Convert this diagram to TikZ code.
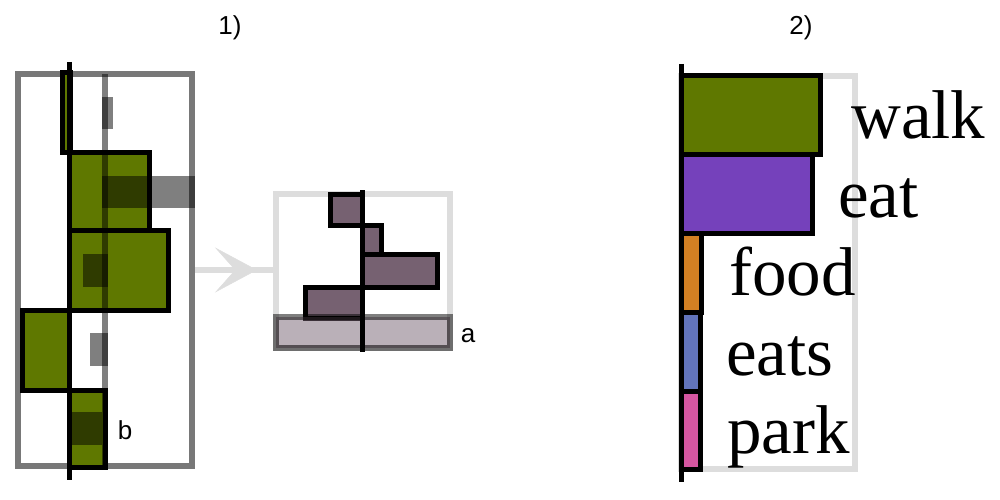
\documentclass[tikz,border=0pt]{standalone}
\usepackage{fontspec}
\setmainfont{Liberation Sans}
\newfontfamily\wordfont{Liberation Serif}
\usetikzlibrary{arrows.meta,positioning,decorations.markings}
\definecolor{oliveBar}{RGB}{95,120,0}
\definecolor{mauveBar}{RGB}{118,97,113}
\definecolor{purpleBar}{RGB}{117,65,187}
\definecolor{orangeBar}{RGB}{211,128,35}
\definecolor{blueBar}{RGB}{98,116,187}
\definecolor{pinkBar}{RGB}{213,86,160}
\definecolor{paleGray}{RGB}{221,221,221}
\tikzstyle{bar}       =[draw=black,line width=5pt]
\tikzstyle{shadowBox} =[fill=black,fill opacity=0.5]
\tikzstyle{darkFrame} =[draw=black,draw opacity=0.53,line width=6pt]
\tikzstyle{lightFrame}=[draw=paleGray,line width=6pt]
\tikzstyle{axisLine}  =[draw=black,line width=5pt]
\tikzstyle{smallText} =[inner sep=0pt,font=\fontsize{26}{26}\selectfont]
\tikzstyle{wordLabel} =[anchor=base west,inner sep=0pt,font=\wordfont\fontsize{69}{69}\selectfont]

\begin{document}
\begin{tikzpicture}[x=1pt,y=-1pt]
  \useasboundingbox (0,0) rectangle (1000,500);
  \node [smallText,anchor=base] (one) at (230,35) {1)};
  \node [smallText,anchor=base] (two) at (801,35) {2)};

  \draw [darkFrame] (18,74) rectangle (192,466);
  \draw [bar,fill=oliveBar] (62,73) rectangle (70,152);
  \draw [bar,fill=oliveBar] (69,152) rectangle (149,230);
  \draw [bar,fill=oliveBar] (69,230) rectangle (168,310);
  \draw [bar,fill=oliveBar] (22,310) rectangle (69,390);
  \draw [bar,fill=oliveBar] (69,390) rectangle (105,467);
  \draw [draw=black,draw opacity=0.5,line width=6pt] (105,74) -- (105,466);
  \fill [shadowBox] (102,97) rectangle (113,129);
  \fill [shadowBox] (102,176) rectangle (195,208);
  \fill [shadowBox] (83,254) rectangle (108,287);
  \fill [shadowBox] (90,333) rectangle (108,366);
  \fill [shadowBox] (72,412) rectangle (102,445);
  \draw [axisLine] (69,62) -- (69,480);
  \node [smallText] (b) at (125,430) {b};

  \coordinate (leftPanel) at (195,270);
  \coordinate (zoomBox) at (273,270);
  \draw [draw=paleGray,line width=6pt,
         postaction={decorate},
         decoration={markings,mark=at position 62pt with
           {\arrow[paleGray]{Stealth[length=42pt,width=45pt,inset=20pt,line width=0.5pt]}}}]
    (leftPanel) -- (zoomBox);

  \draw [lightFrame] (276,194) rectangle (450,348);
  \draw [bar,fill=mauveBar] (330,194) rectangle (362,225);
  \draw [bar,fill=mauveBar] (362,225) rectangle (381,254);
  \draw [bar,fill=mauveBar] (362,254) rectangle (437,287);
  \draw [bar,fill=mauveBar] (305,287) rectangle (362,318);
  \draw [draw=black,draw opacity=0.5,fill=mauveBar,fill opacity=0.5,line width=6pt]
    (276,317) rectangle (450,348);
  \draw [axisLine] (362,190) -- (362,352);
  \node [smallText] (a) at (468,336) {a};

  \draw [lightFrame] (681,76) rectangle (855,469);
  \draw [bar,fill=oliveBar] (681,76) rectangle (820,154);
  \draw [bar,fill=purpleBar] (681,154) rectangle (812,233);
  \draw [bar,fill=orangeBar] (681,233) rectangle (701,312);
  \draw [bar,fill=blueBar] (681,312) rectangle (700,391);
  \draw [bar,fill=pinkBar] (681,391) rectangle (700,469);
  \draw [axisLine] (681,64) -- (681,482);
  \node [wordLabel] (walk) at (851,138) {walk};
  \node [wordLabel] (eat) at (838,217) {eat};
  \node [wordLabel] (food) at (729,295) {food};
  \node [wordLabel] (eats) at (726,375) {eats};
  \node [wordLabel] (park) at (727,453) {park};
\end{tikzpicture}
\end{document}
